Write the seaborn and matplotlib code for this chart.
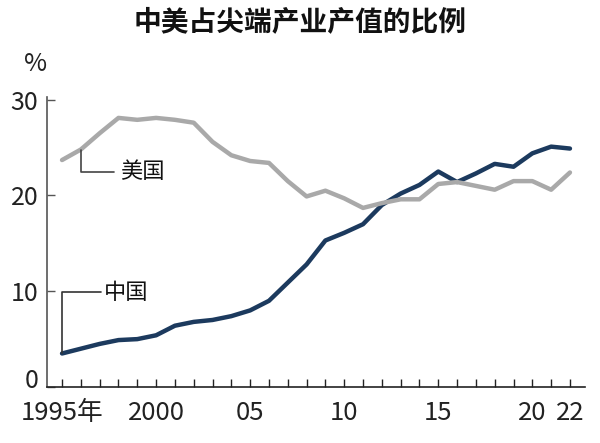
import pandas as pd
import matplotlib
matplotlib.use("Agg")
import matplotlib.pyplot as plt
import matplotlib.transforms as mtransforms
import seaborn as sns


# 1. Data (% share of high-tech industry output)
years = list(range(1995, 2023))
china = [3.5, 4.0, 4.5, 4.9, 5.0, 5.4, 6.4, 6.8, 7.0, 7.4, 8.0, 9.0, 10.9, 12.8,
         15.3, 16.1, 17.0, 19.0, 20.2, 21.1, 22.5, 21.4, 22.3, 23.3, 23.0, 24.4,
         25.1, 24.9]
usa = [23.7, 24.8, 26.5, 28.1, 27.9, 28.1, 27.9, 27.6, 25.6, 24.2, 23.6, 23.4,
       21.5, 19.9, 20.5, 19.7, 18.7, 19.2, 19.6, 19.6, 21.2, 21.4, 21.0, 20.6,
       21.5, 21.5, 20.6, 22.4]
series_names = ["中国", "美国"]
tick_years = [1995, 2000, 2005, 2010, 2015, 2020, 2022]
tick_labels = ["1995年", "2000", "05", "10", "15", "20", "22"]
y_ticks = [0, 10, 20, 30]

df = pd.DataFrame({
    "year": years * 2,
    "value": china + usa,
    "country": [series_names[0]] * len(years) + [series_names[1]] * len(years),
})


# 2. Style
sns.set_style("white")
plt.rcParams["font.family"] = ["Liberation Sans Narrow", "Noto Sans CJK SC", "DejaVu Sans"]

fig = plt.figure(figsize=(6, 4.43), dpi=100)
ax = fig.add_axes([0.078, 0.1264, 0.897, 0.655])

sns.lineplot(
    data=df, x="year", y="value", hue="country",
    palette={"中国": "#1c3a5e", "美国": "#a9a9a9"},
    linewidth=3.2, legend=False, ax=ax,
    solid_capstyle="round", solid_joinstyle="round",
)

ax.set_xlim(1994.19, 2022.8)
ax.set_ylim(0, 30.3)
ax.set_xlabel("")
ax.set_ylabel("")

ax.set_xticks(years, minor=True)
ax.set_xticks(tick_years)
ax.set_xticklabels(tick_labels, fontsize=18.5)
ax.set_yticks(y_ticks)
ax.set_yticklabels([str(v) for v in y_ticks], fontsize=18)

ax.tick_params(axis="x", which="both", bottom=True, direction="in", length=6,
               width=1, color="#222222", pad=9, labelcolor="#222222")
ax.tick_params(axis="y", left=True, direction="in", length=6, width=1,
               color="#555555", pad=6, labelcolor="#222222")

# the "0" label sits a little above the baseline in the original
zero_label = ax.get_yticklabels()[0]
zero_label.set_transform(zero_label.get_transform() +
                         mtransforms.ScaledTranslation(0, 9 / 100, fig.dpi_scale_trans))

for side in ["top", "right"]:
    ax.spines[side].set_visible(False)
ax.spines["left"].set_color("#555555")
ax.spines["left"].set_linewidth(1.2)
ax.spines["bottom"].set_color("#222222")
ax.spines["bottom"].set_linewidth(1.2)


# 3. Leader lines and labels
i_us = years.index(1996)
ax.plot([1996, 1996, 1997.75], [usa[i_us], 22.5, 22.5], color="#444444", lw=1.2)
ax.text(1998.1, 22.5, "美国", fontsize=16, va="center", ha="left", color="#111111")

i_cn = years.index(1995)
ax.plot([1995, 1995, 1997.05], [china[i_cn], 9.9, 9.9], color="#333333", lw=1.2)
ax.text(1997.2, 9.9, "中国", fontsize=16, va="center", ha="left", color="#111111")


# 4. Title and unit
fig.text(0.5, 1 - 22 / 443, "中美占尖端产业产值的比例", fontsize=20,
         fontweight="bold", ha="center", va="center", color="#111111")
fig.text(36 / 600, 1 - 64 / 443, "%", fontsize=18, ha="center", va="center",
         color="#222222")

fig.savefig("out.png", dpi=100)
